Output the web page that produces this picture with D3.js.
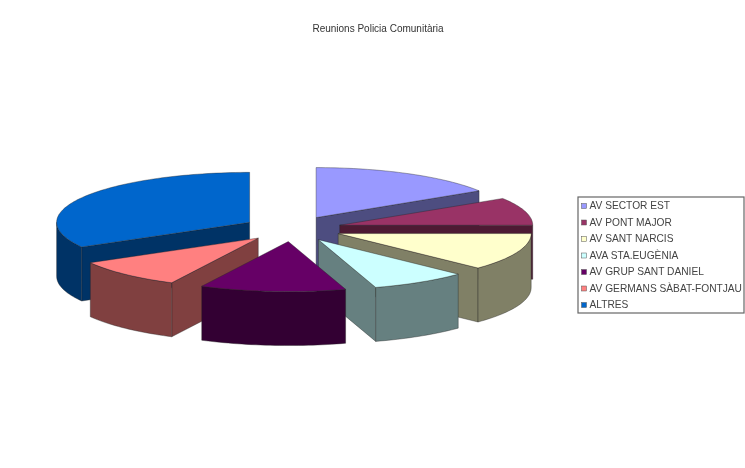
<!DOCTYPE html>
<html><head><meta charset="utf-8">
<script src="https://cdnjs.cloudflare.com/ajax/libs/d3/7.8.5/d3.min.js"></script>
<style>html,body{margin:0;padding:0;background:#fff}svg{display:block;filter:blur(0.6px)}
text{font-family:"Liberation Sans",Arial,sans-serif}</style></head>
<body><svg id="c" width="745" height="468"></svg>
<script>
const chartTitle = "Reunions Policia Comunitària";
const categories = ["AV SECTOR EST","AV PONT MAJOR","AV SANT NARCIS","AVA STA.EUGÈNIA","AV GRUP SANT DANIEL","AV GERMANS SÀBAT-FONTJAU","ALTRES"];
const values = [16, 9, 12.1, 8.1, 12.2, 9.4, 33.2];
const topColors = ["#9999FF","#993366","#FFFFCC","#CCFFFF","#660066","#FF8080","#0066CC"];
const sideColors = ["#4d4d80","#4d1a33","#808066","#668080","#330033","#804040","#003366"];
const drawOrder = [6,0,1,2,5,3,4];

const cx=292.3, cy=228.8, rx=193, ry=50, explode=49.4, depth=54;
const svg=d3.select("#c");
const g=svg.append("g");
const arcs=d3.pie().sort(null).value(d=>d)(values);
const X=d3.scaleLinear().domain([-1,1]).range([cx-rx,cx+rx]);
const Y=d3.scaleLinear().domain([-1,1]).range([cy-ry,cy+ry]);
const line=d3.line();
function unit(a,r=1){return [Math.sin(a)*r,-Math.cos(a)*r];}
drawOrder.forEach(i=>{
  const a=arcs[i], mid=(a.startAngle+a.endAngle)/2;
  const off=unit(mid,explode/rx);
  const P=(ang,r,dz=0)=>{const u=unit(ang,r);return [X(u[0]+off[0]),Y(u[1]+off[1])+dz];};
  const apex=P(0,0);
  const n=Math.max(8,Math.ceil((a.endAngle-a.startAngle)*40));
  const angs=d3.range(n+1).map(k=>a.startAngle+(a.endAngle-a.startAngle)*k/n);
  const sl=g.append("g");
  const wall=(pts)=>sl.append("path").attr("d",line(pts.concat(pts.map(p=>[p[0],p[1]+depth]).reverse()))+"Z")
     .attr("fill",sideColors[i]).attr("stroke","#222").attr("stroke-width",0.5).attr("stroke-opacity",.75).attr("stroke-linejoin","round");
  if(Math.sin(a.startAngle)<-1e-6) wall([apex,P(a.startAngle,1)]);
  if(Math.sin(a.endAngle)>1e-6) wall([apex,P(a.endAngle,1)]);
  const lo=Math.max(a.startAngle,Math.PI/2), hi=Math.min(a.endAngle,3*Math.PI/2);
  if(hi>lo){
    const m=Math.ceil((hi-lo)*40);
    wall(d3.range(m+1).map(k=>P(lo+(hi-lo)*k/m,1)));
  }
  sl.append("path").attr("d",line([apex].concat(angs.map(t=>P(t,1))))+"Z")
    .attr("fill",topColors[i]).attr("stroke","#222").attr("stroke-width",0.5).attr("stroke-opacity",.75).attr("stroke-linejoin","round");
});
g.append("text").attr("x",378).attr("y",32).attr("text-anchor","middle").attr("font-size",10).attr("fill","#333").text(chartTitle);
const lg=g.append("g");
lg.append("rect").attr("x",578).attr("y",197).attr("width",166).attr("height",116).attr("fill","#fff").attr("stroke","#666").attr("stroke-width",1.2);
const ly=d3.scalePoint().domain(d3.range(categories.length)).range([206,305]);
categories.forEach((c,i)=>{
  lg.append("rect").attr("x",581.5).attr("y",ly(i)-2.5).attr("width",5).attr("height",5).attr("fill",topColors[i]).attr("stroke","#555").attr("stroke-width",.5);
  lg.append("text").attr("x",589.5).attr("y",ly(i)+3.4).attr("font-size",10.2).attr("fill","#444").text(c);
});
</script></body></html>
